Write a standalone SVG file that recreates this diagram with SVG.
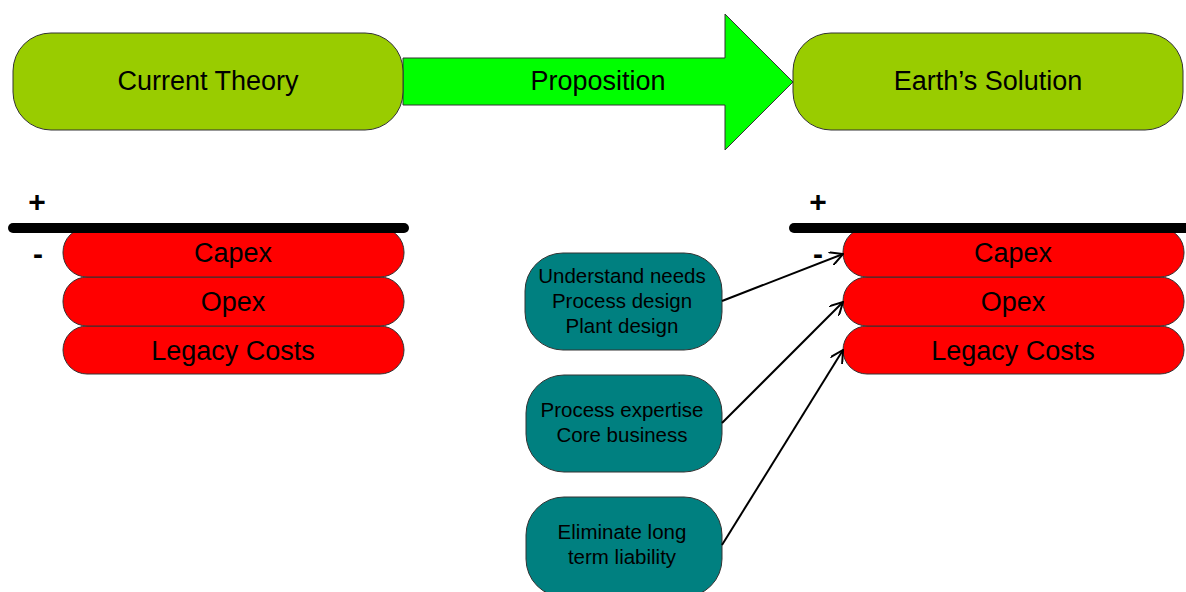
<svg xmlns="http://www.w3.org/2000/svg" width="1186" height="592" viewBox="0 0 1186 592">
<style>
.t{font-family:"Liberation Sans",Arial,sans-serif;fill:#000;text-anchor:middle}
.big{font-size:27px}
.sm{font-size:20.5px}
.sign{font-size:30px;font-weight:bold}
.olive{fill:#99CC00;stroke:#333;stroke-width:1}
.red{fill:#FF0000;stroke:#333;stroke-width:1}
.teal{fill:#008080;stroke:#333;stroke-width:1}
.bar{stroke:#000;stroke-width:10;stroke-linecap:round}
.conn{stroke:#000;stroke-width:2;fill:none;marker-end:url(#ah)}
</style>
<defs>
<marker id="ah" viewBox="0 0 14 14" refX="13" refY="7" markerWidth="14" markerHeight="14" markerUnits="userSpaceOnUse" orient="auto">
<path d="M0,0 L13,7 L0,14" fill="none" stroke="#000" stroke-width="2"/>
</marker>
</defs>
<rect width="1186" height="592" fill="#fff"/>
<g id="proposition">
<polygon points="403,58 725,58 725,14 793,82 725,150 725,105 403,105" fill="#00FF00" stroke="#333" stroke-width="1"/>
<text class="t big" x="598" y="90">Proposition</text>
</g>
<g id="current-theory">
<rect class="olive" x="13" y="33" width="390" height="97" rx="38"/>
<text class="t big" x="208" y="90">Current Theory</text>
</g>
<g id="earths-solution">
<rect class="olive" x="793" y="33" width="390" height="97" rx="38"/>
<text class="t big" x="988" y="90">Earth’s Solution</text>
</g>
<g id="left-stack">
<rect class="red" x="63" y="326" width="341" height="48" rx="24"/>
<text class="t big" x="233" y="360">Legacy Costs</text>
<rect class="red" x="63" y="277" width="341" height="49" rx="24"/>
<text class="t big" x="233" y="311">Opex</text>
<rect class="red" x="63" y="228" width="341" height="49" rx="24"/>
<text class="t big" x="233" y="262">Capex</text>
<line class="bar" x1="13" y1="228" x2="404" y2="228"/>
<text class="t sign" x="37" y="212">+</text>
<text class="t sign" x="38" y="264">-</text>
</g>
<g id="right-stack">
<rect class="red" x="843" y="326" width="341" height="48" rx="24"/>
<text class="t big" x="1013" y="360">Legacy Costs</text>
<rect class="red" x="843" y="277" width="341" height="49" rx="24"/>
<text class="t big" x="1013" y="311">Opex</text>
<rect class="red" x="843" y="228" width="341" height="49" rx="24"/>
<text class="t big" x="1013" y="262">Capex</text>
<line class="bar" x1="794" y1="228" x2="1190" y2="228"/>
<text class="t sign" x="818" y="212">+</text>
<text class="t sign" x="818" y="264">-</text>
</g>
<g id="needs">
<rect class="teal" x="525" y="253" width="197" height="97" rx="38"/>
<text class="t sm" x="622" y="283">Understand needs</text>
<text class="t sm" x="622" y="308">Process design</text>
<text class="t sm" x="622" y="333">Plant design</text>
</g>
<g id="expertise">
<rect class="teal" x="526" y="375" width="196" height="97" rx="38"/>
<text class="t sm" x="622" y="417">Process expertise</text>
<text class="t sm" x="622" y="442">Core business</text>
</g>
<g id="liability">
<rect class="teal" x="526" y="497" width="196" height="100" rx="38"/>
<text class="t sm" x="622" y="539">Eliminate long</text>
<text class="t sm" x="622" y="564">term liability</text>
</g>
<g id="connectors">
<line class="conn" x1="722" y1="301" x2="843" y2="254"/>
<line class="conn" x1="722" y1="423" x2="843" y2="302"/>
<line class="conn" x1="722" y1="545" x2="843" y2="350"/>
</g>
</svg>
